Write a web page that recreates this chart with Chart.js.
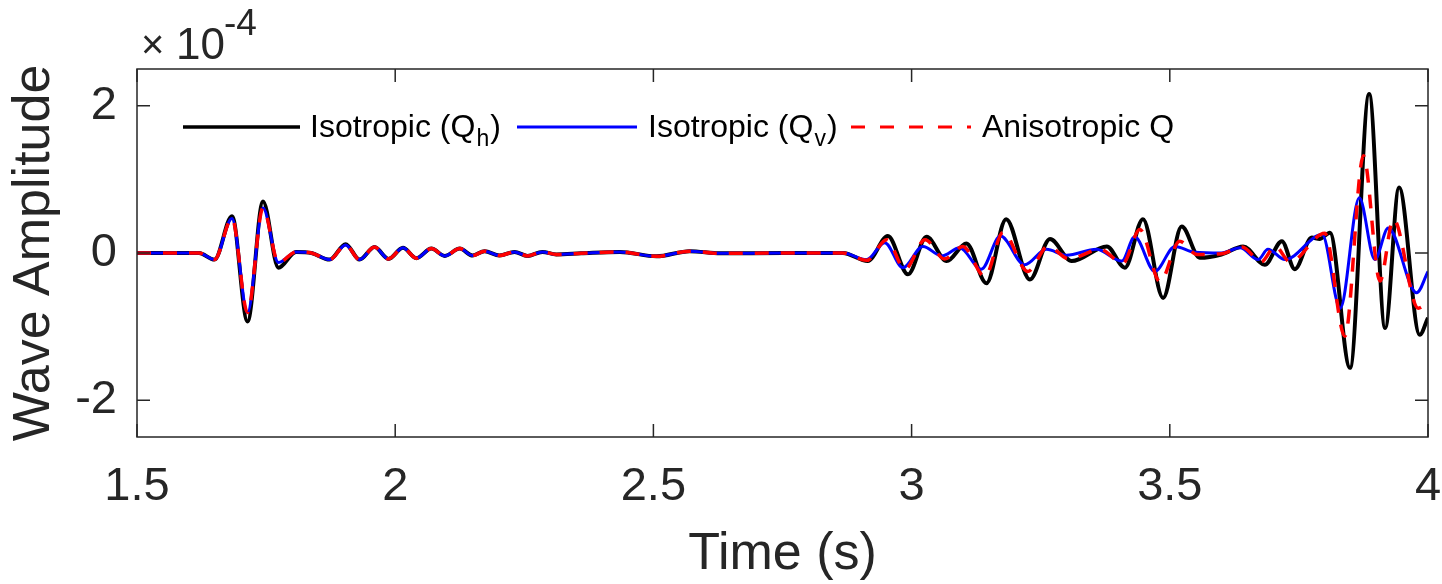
<!DOCTYPE html>
<html lang="en">
<head>
<meta charset="UTF-8">
<title>Wave Amplitude vs Time</title>
<style>
  body { margin: 0; background: #fff; }
  #wrap { width: 1442px; height: 584px; }
</style>
</head>
<body>
<div id="wrap"><canvas id="wave" width="1442" height="584"></canvas></div>
<script src="https://cdn.jsdelivr.net/npm/chart.js"></script>
<script>
// axis ticks
const xTicks = [1.5, 2, 2.5, 3, 3.5, 4];
const yTicks = [-2, 0, 2];

// early arrivals (1.5 - 2.9 s), all three models nearly identical
const tEarly = [1.5, 1.62, 1.650, 1.684, 1.714, 1.744, 1.774, 1.808, 1.838, 1.873, 1.904, 1.931,
  1.960, 1.987, 2.015, 2.041, 2.070, 2.096, 2.125, 2.150, 2.173, 2.202, 2.231, 2.256, 2.285,
  2.312, 2.36, 2.435, 2.506, 2.570, 2.63, 2.75, 2.867];
const ampEarlyQh = [0, 0, -0.09, 0.50, -0.93, 0.70, -0.20, 0.015, 0, -0.09, 0.12, -0.09,
  0.08, -0.08, 0.07, -0.07, 0.06, -0.04, 0.06, -0.035, 0.025, -0.035, 0.015, -0.04, 0.015,
  -0.02, -0.005, 0.015, -0.045, 0.025, -0.005, 0, 0];
const ampEarlyQv = [0, 0, -0.09, 0.47, -0.81, 0.61, -0.13, 0.015, 0, -0.09, 0.11, -0.09,
  0.08, -0.08, 0.07, -0.07, 0.06, -0.04, 0.06, -0.035, 0.025, -0.035, 0.015, -0.04, 0.015,
  -0.02, -0.005, 0.015, -0.045, 0.025, -0.005, 0, 0];

// later arrivals (2.9 - 4 s)
const tLateQh = [2.915, 2.954, 2.993, 3.029, 3.068, 3.106, 3.145, 3.183, 3.229, 3.268, 3.310,
  3.378, 3.413, 3.448, 3.487, 3.523, 3.558, 3.600, 3.642, 3.684, 3.717, 3.742, 3.775, 3.790,
  3.810, 3.849, 3.886, 3.917, 3.944, 3.984, 4.0];
const ampLateQh = [-0.11, 0.23, -0.29, 0.22, -0.11, 0.13, -0.41, 0.46, -0.36, 0.19, -0.11,
  0.09, -0.20, 0.46, -0.61, 0.36, -0.065, -0.02, 0.09, -0.16, 0.16, -0.22, 0.21, 0.19,
  0.275, -1.56, 2.16, -1.02, 0.89, -1.11, -0.88];

const tLateQv = [2.913, 2.948, 2.983, 3.022, 3.058, 3.093, 3.135, 3.172, 3.219, 3.261, 3.300,
  3.358, 3.407, 3.432, 3.471, 3.510, 3.548, 3.600, 3.636, 3.671, 3.690, 3.723, 3.795, 3.830,
  3.867, 3.897, 3.923, 3.978, 4.0];
const ampLateQv = [-0.09, 0.14, -0.20, 0.09, -0.04, 0.07, -0.22, 0.23, -0.16, 0.05, -0.03,
  0.05, -0.11, 0.22, -0.25, 0.09, 0.01, 0, 0.07, -0.09, 0.05, -0.09, 0.25, -0.75,
  0.75, -0.09, 0.34, -0.54, -0.25];

const tLateAniso = [2.913, 2.952, 2.987, 3.026, 3.064, 3.099, 3.142, 3.177, 3.225, 3.264, 3.305,
  3.365, 3.409, 3.442, 3.481, 3.519, 3.553, 3.600, 3.640, 3.677, 3.704, 3.733, 3.800, 3.839,
  3.875, 3.907, 3.933, 3.981, 4.0];
const ampLateAniso = [-0.10, 0.18, -0.22, 0.18, -0.08, 0.09, -0.32, 0.28, -0.25, 0.09, -0.08,
  0.05, -0.14, 0.32, -0.39, 0.16, -0.02, -0.01, 0.08, -0.12, 0.09, -0.12, 0.27, -1.13,
  1.32, -0.38, 0.46, -0.75, -0.67];

const toPoints = (ts, as) => ts.map((t, i) => ({x: t, y: as[i]}));
const qhData = toPoints(tEarly, ampEarlyQh).concat(toPoints(tLateQh, ampLateQh));
const qvData = toPoints(tEarly, ampEarlyQv).concat(toPoints(tLateQv, ampLateQv));
const anisoData = toPoints(tEarly, ampEarlyQv).concat(toPoints(tLateAniso, ampLateAniso));

const FONT = '"Liberation Sans", Arial, Helvetica, sans-serif';
const INK = '#262626';

// box, inward ticks, exponent and legend (legend needs subscripts)
const decorations = {
  id: 'decorations',
  afterDatasetsDraw(chart) {
    const {ctx, chartArea: a, scales: {x, y}} = chart;
    ctx.save();
    ctx.strokeStyle = INK;
    ctx.lineWidth = 1.5;
    ctx.strokeRect(a.left, a.top, a.right - a.left, a.bottom - a.top);
    ctx.beginPath();
    xTicks.forEach(v => {
      const px = x.getPixelForValue(v);
      ctx.moveTo(px, a.bottom); ctx.lineTo(px, a.bottom - 13);
      ctx.moveTo(px, a.top); ctx.lineTo(px, a.top + 13);
    });
    yTicks.forEach(v => {
      const py = y.getPixelForValue(v);
      ctx.moveTo(a.left, py); ctx.lineTo(a.left + 13, py);
      ctx.moveTo(a.right, py); ctx.lineTo(a.right - 13, py);
    });
    ctx.stroke();

    // x10^-4
    ctx.fillStyle = INK;
    ctx.textAlign = 'left';
    ctx.textBaseline = 'alphabetic';
    ctx.font = '40px ' + FONT;
    ctx.fillText('\u00d7', 141, 58);
    ctx.font = '44px ' + FONT;
    ctx.fillText('10', 176, 59);
    ctx.font = '37px ' + FONT;
    ctx.fillText('-4', 224, 35);

    // legend
    const items = [
      {color: '#000000', dash: [], width: 3.5, x0: 183, x1: 300, tx: 310, main: 'Isotropic (Q', sub: 'h', tail: ')'},
      {color: '#0000ff', dash: [], width: 3, x0: 517, x1: 637, tx: 648, main: 'Isotropic (Q', sub: 'v', tail: ')'},
      {color: '#ff0000', dash: [14, 15], width: 3, x0: 851, x1: 971, tx: 982, main: 'Anisotropic Q', sub: '', tail: ''}
    ];
    items.forEach(it => {
      ctx.beginPath();
      ctx.setLineDash(it.dash);
      ctx.strokeStyle = it.color;
      ctx.lineWidth = it.width;
      ctx.moveTo(it.x0, 127); ctx.lineTo(it.x1, 127);
      ctx.stroke();
      ctx.setLineDash([]);
      ctx.fillStyle = '#000';
      ctx.font = '32px ' + FONT;
      ctx.fillText(it.main, it.tx, 137);
      let cx = it.tx + ctx.measureText(it.main).width;
      if (it.sub) {
        ctx.font = '23px ' + FONT;
        ctx.fillText(it.sub, cx + 1, 146);
        cx += ctx.measureText(it.sub).width + 2;
        ctx.font = '32px ' + FONT;
        ctx.fillText(it.tail, cx, 137);
      }
    });
    ctx.restore();
  }
};

const lineStyle = {
  pointRadius: 0,
  fill: false,
  cubicInterpolationMode: 'monotone'
};

new Chart(document.getElementById('wave'), {
  type: 'line',
  data: {
    datasets: [
      Object.assign({label: 'Anisotropic Q', data: anisoData, borderColor: '#ff0000', borderWidth: 3.5, borderDash: [14, 12], order: 0}, lineStyle),
      Object.assign({label: 'Isotropic (Qv)', data: qvData, borderColor: '#0000ff', borderWidth: 3, order: 1}, lineStyle),
      Object.assign({label: 'Isotropic (Qh)', data: qhData, borderColor: '#000000', borderWidth: 4, order: 2}, lineStyle)
    ]
  },
  options: {
    responsive: false,
    devicePixelRatio: 1,
    animation: false,
    layout: {padding: {left: 0, top: 69, right: 14, bottom: 0}},
    plugins: {legend: {display: false}, tooltip: {enabled: false}},
    scales: {
      x: {
        type: 'linear',
        min: 1.5, max: 4,
        afterBuildTicks: s => { s.ticks = xTicks.map(v => ({value: v})); },
        afterFit: s => { s.height = 147; s.paddingLeft = 0; s.paddingRight = 0; },
        grid: {display: false, drawTicks: false},
        border: {display: false},
        ticks: {color: INK, font: {family: FONT, size: 47}, padding: 22, maxRotation: 0,
          callback: v => String(v)},
        title: {display: true, text: 'Time (s)', color: INK, font: {family: FONT, size: 52, lineHeight: 1},
          padding: {top: 0, bottom: 3}}
      },
      y: {
        min: -2.5, max: 2.5,
        afterBuildTicks: s => { s.ticks = yTicks.map(v => ({value: v})); },
        afterFit: s => { s.width = 137; s.paddingTop = 0; s.paddingBottom = 0; },
        grid: {display: false, drawTicks: false},
        border: {display: false},
        ticks: {color: INK, font: {family: FONT, size: 47}, padding: 20, callback: v => String(v)},
        title: {display: true, text: 'Wave Amplitude', color: INK, font: {family: FONT, size: 52, lineHeight: 1},
          padding: {top: 9, bottom: 0}}
      }
    }
  },
  plugins: [decorations]
});
</script>
</body>
</html>
